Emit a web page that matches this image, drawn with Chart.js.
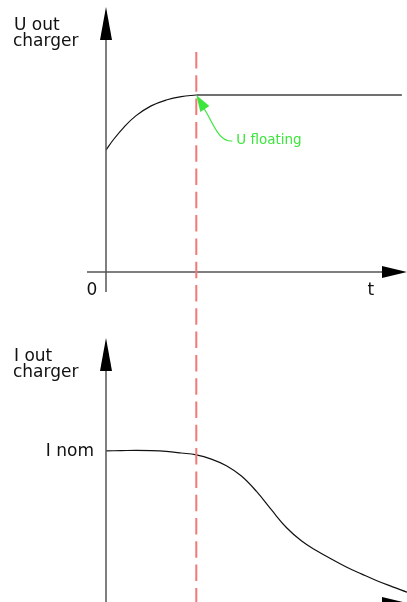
<!DOCTYPE html>
<html>
<head>
<meta charset="utf-8">
<script src="https://cdn.jsdelivr.net/npm/chart.js@4"></script>
<style>
  html, body { margin: 0; padding: 0; background: #fff; overflow: hidden; }
  canvas { position: absolute; left: 0; top: 0; }
</style>
</head>
<body>
<canvas id="iChart" width="407" height="610"></canvas>
<canvas id="uChart" width="407" height="602"></canvas>
<script>
// time axis: 0..10, switch to floating at tFloat
const tFloat = 3.0;

// U out charger: charging curve, then flat floating level
const uTime = [0, 0.25, 0.6, 1.0, 1.5, 2.0, 2.5, 3.0];
const uVals = [4.6, 5.0, 5.47, 5.9, 6.27, 6.49, 6.62, 6.68];
const floatTime = [3.0, 9.83];
const floatVals = [6.68, 6.68];

// I out charger
const iTime = [0, 0.5, 1, 1.5, 2, 2.5, 3, 3.5, 4, 4.5, 5, 5.5, 6, 6.5, 7, 7.5, 8, 8.5, 9, 9.5, 10];
const iVals = [5.74, 5.75, 5.76, 5.75, 5.72, 5.66, 5.59, 5.43, 5.18, 4.79, 4.21, 3.51, 2.84, 2.34, 1.97, 1.65, 1.35, 1.09, 0.84, 0.62, 0.41];

// labels
const uAxisTitle = ['U out', 'charger'];
const iAxisTitle = ['I out', 'charger'];
const xTickLabels = ['0', 't'];
const xTickValues = [-0.47, 8.8];
const iTickValues = [5.74];
const iTickLabels = ['I nom'];
const floatLabel = 'U floating';

const FONT = '17px "DejaVu Sans"';
const AXIS = '#555';

function pts(xs, ys) {
    return xs.map((x, i) => ({ x: x, y: ys[i] }));
}

function arrowHead(ctx, tipX, tipY, dir) {
    ctx.beginPath();
    if (dir === 'up') {
        ctx.moveTo(tipX, tipY);
        ctx.lineTo(tipX - 6, tipY + 33);
        ctx.lineTo(tipX + 6, tipY + 33);
    } else {
        ctx.moveTo(tipX, tipY);
        ctx.lineTo(tipX - 25, tipY - 6);
        ctx.lineTo(tipX - 25, tipY + 6);
    }
    ctx.closePath();
    ctx.fill();
}

// draws the arrow axes + labels for both charts
const axesPlugin = {
    id: 'axes',
    afterDraw(chart, args, opts) {
        const ctx = chart.ctx;
        const xs = chart.scales.x, ys = chart.scales.y;
        const ox = xs.getPixelForValue(0);
        const oy = ys.getPixelForValue(0);
        const top = chart.chartArea.top;
        ctx.save();
        ctx.strokeStyle = AXIS;
        ctx.fillStyle = '#000';
        ctx.lineWidth = 1.5;
        // y axis
        ctx.beginPath();
        ctx.moveTo(ox, top + 30);
        ctx.lineTo(ox, oy + 20);
        ctx.stroke();
        arrowHead(ctx, ox, top, 'up');
        // x axis
        ctx.beginPath();
        ctx.moveTo(ox - 19, oy);
        ctx.lineTo(chart.chartArea.right - 24, oy);
        ctx.stroke();
        arrowHead(ctx, chart.chartArea.right, oy, 'right');

        ctx.font = FONT;
        ctx.fillStyle = '#111';
        ctx.textAlign = 'left';
        ctx.textBaseline = 'alphabetic';
        ctx.fillText(opts.title[0], 14, top + 23);
        ctx.fillText(opts.title[1], 13, top + 39);

        if (opts.xTicks) {
            ctx.textAlign = 'center';
            xTickValues.forEach((v, i) => {
                ctx.fillText(xTickLabels[i], xs.getPixelForValue(v), oy + 23);
            });
        }
        if (opts.yTicks) {
            ctx.textAlign = 'right';
            ctx.textBaseline = 'middle';
            iTickValues.forEach((v, i) => {
                ctx.fillText(iTickLabels[i], ox - 12, ys.getPixelForValue(v) + 1);
            });
        }
        ctx.restore();
    }
};

// red dashed marker + green "U floating" callout (top chart only)
const markerPlugin = {
    id: 'marker',
    afterDraw(chart) {
        const ctx = chart.ctx;
        const px = chart.scales.x.getPixelForValue(tFloat);
        const py = chart.scales.y.getPixelForValue(floatVals[0]);
        ctx.save();
        ctx.strokeStyle = '#f27878';
        ctx.lineWidth = 2;
        ctx.setLineDash([16.5, 6.8]);
        ctx.beginPath();
        ctx.moveTo(px, 52);
        ctx.lineTo(px, chart.height);
        ctx.stroke();
        ctx.setLineDash([]);

        // callout
        const green = '#3ce63c';
        ctx.strokeStyle = green;
        ctx.fillStyle = green;
        ctx.lineWidth = 1.2;
        ctx.beginPath();
        ctx.moveTo(px + 36, py + 46);
        ctx.bezierCurveTo(px + 22, py + 47, px + 17, py + 28, px + 8, py + 14);
        ctx.stroke();
        ctx.beginPath();
        ctx.moveTo(px, py);
        ctx.lineTo(px + 4, py + 17);
        ctx.lineTo(px + 13, py + 11);
        ctx.closePath();
        ctx.fill();

        ctx.font = '13.5px "DejaVu Sans"';
        ctx.textAlign = 'left';
        ctx.textBaseline = 'middle';
        ctx.fillText(floatLabel, px + 40, py + 46);
        ctx.restore();
    }
};

const baseOptions = (padding, pluginOpts) => ({
    responsive: false,
    animation: false,
    layout: { padding: padding },
    plugins: { legend: { display: false }, tooltip: { enabled: false }, axes: pluginOpts },
    scales: {
        x: { type: 'linear', min: 0, max: 10, display: false },
        y: { min: 0, max: 10, display: false }
    },
    elements: { point: { radius: 0 } }
});

new Chart(document.getElementById('iChart'), {
    type: 'line',
    data: {
        datasets: [{
            data: pts(iTime, iVals),
            borderColor: '#111',
            borderWidth: 1.2,
            tension: 0.4
        }]
    },
    options: baseOptions({ left: 106, right: 0, top: 338, bottom: 7 },
        { title: iAxisTitle, xTicks: false, yTicks: true }),
    plugins: [axesPlugin]
});

new Chart(document.getElementById('uChart'), {
    type: 'line',
    data: {
        datasets: [{
            data: pts(uTime, uVals),
            borderColor: '#111',
            borderWidth: 1.2,
            tension: 0.4
        }, {
            data: pts(floatTime, floatVals),
            borderColor: '#707070',
            borderWidth: 2
        }]
    },
    options: baseOptions({ left: 106, right: 0, top: 7, bottom: 330 },
        { title: uAxisTitle, xTicks: true, yTicks: false }),
    plugins: [axesPlugin, markerPlugin]
});
</script>
</body>
</html>
